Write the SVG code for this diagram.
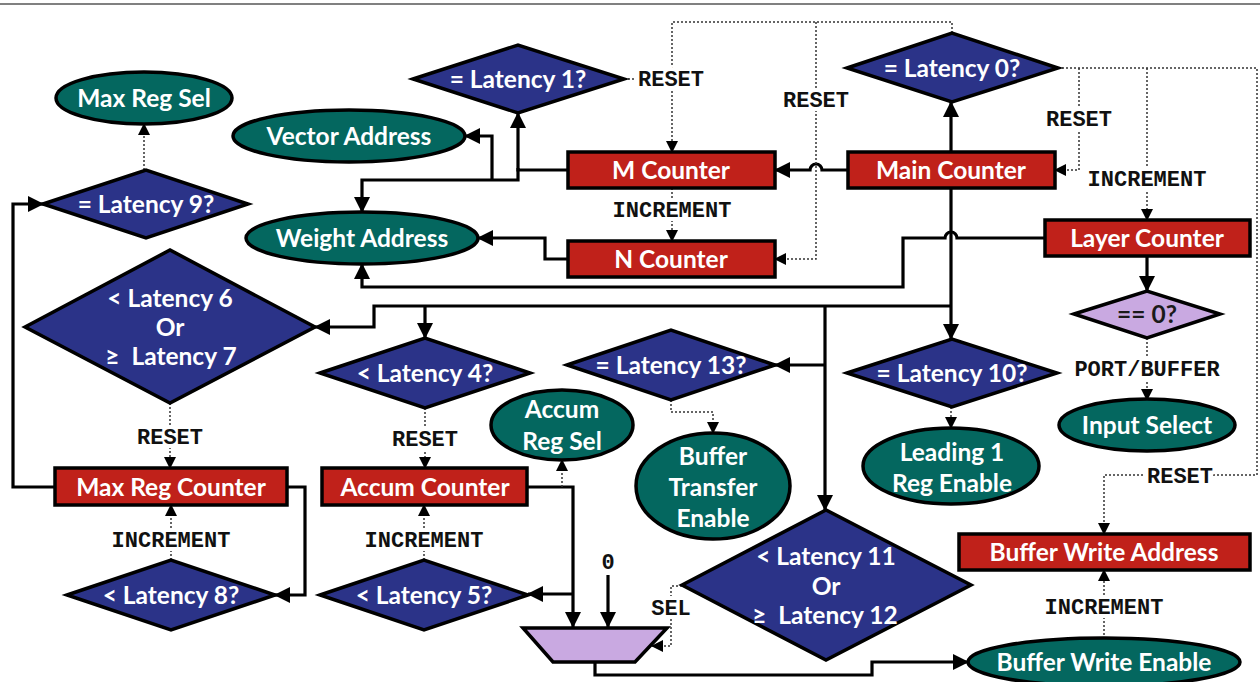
<svg xmlns="http://www.w3.org/2000/svg" width="1260" height="682" viewBox="0 0 1260 682">
  <style>
    .dia { fill: #2b3388; stroke: #000; stroke-width: 3.5; stroke-linejoin: miter; }
    .ell { fill: #04675f; stroke: #000; stroke-width: 3.5; }
    .box { fill: #c0211a; stroke: #000; stroke-width: 3.5; }
    .mux { fill: #c9a9e1; stroke: #000; stroke-width: 3.5; }
    .t { font-family: Lato, "Open Sans", sans-serif; font-weight: bold; font-size: 24.5px; fill: #fff; text-anchor: middle; }
    .dk { fill: #1a1a1a; }
    .m { font-family: "Liberation Mono", "Courier New", monospace; font-weight: bold; font-size: 22px; fill: #111; text-anchor: middle;
         paint-order: stroke; stroke: #fff; stroke-width: 8px; stroke-linejoin: round; }
    .w { fill: none; stroke: #000; stroke-width: 3.2; stroke-linejoin: miter; }
    .d { fill: none; stroke: #333; stroke-width: 1.5; stroke-dasharray: 2 2; }
  </style>
  <defs>
    <marker id="a" markerUnits="userSpaceOnUse" markerWidth="16" markerHeight="16" refX="15" refY="8" orient="auto">
      <path d="M0,0 L16,8 L0,16 z" fill="#000"/>
    </marker>
    <marker id="s" markerUnits="userSpaceOnUse" markerWidth="12" markerHeight="12" refX="11" refY="6" orient="auto">
      <path d="M0,0 L12,6 L0,12 z" fill="#000"/>
    </marker>
  </defs>

  <!-- header rule -->
  <line x1="0" y1="4" x2="1260" y2="4" stroke="#808080" stroke-width="2"/>

  <!-- connectors -->
  <g id="connectors">
    <!-- solid data paths -->
    <path class="w" d="M951,152 V102" marker-end="url(#a)"/>
    <path class="w" d="M848,170 H822 A6,6 0 0 0 810,170 H775" marker-end="url(#a)"/>
    <path class="w" d="M568,170 H518 V113" marker-end="url(#a)"/>
    <path class="w" d="M518,168 V180 H362 V212" marker-end="url(#a)"/>
    <path class="w" d="M492,180 V136 H465" marker-end="url(#a)"/>
    <path class="w" d="M568,259 H545 V238 H478" marker-end="url(#a)"/>
    <path class="w" d="M1045,238 H957 A6,6 0 0 0 945,238 H903 V287 H362 V264" marker-end="url(#a)"/>
    <path class="w" d="M1147,256 V291" marker-end="url(#a)"/>
    <path class="w" d="M951,188 V339" marker-end="url(#a)"/>
    <path class="w" d="M951,306 H374 V327 H315" marker-end="url(#a)"/>
    <path class="w" d="M425,306 V338" marker-end="url(#a)"/>
    <path class="w" d="M825,306 V510" marker-end="url(#a)"/>
    <path class="w" d="M825,365 H775" marker-end="url(#a)"/>
    <path class="w" d="M55,487 H13 V204 H43" marker-end="url(#a)"/>
    <path class="w" d="M287,487 H305 V595 H275" marker-end="url(#a)"/>
    <path class="w" d="M527,487 H573 V627" marker-end="url(#a)"/>
    <path class="w" d="M573,594 H528" marker-end="url(#a)"/>
    <path class="w" d="M608,575 V627" marker-end="url(#a)"/>
    <path class="w" d="M595,662 V675 H872 V662 H968" marker-end="url(#a)"/>

    <!-- dotted control paths -->
    <path class="d" d="M144,170 V124" marker-end="url(#s)"/>
    <path class="d" d="M170,403 V468" marker-end="url(#s)"/>
    <path class="d" d="M171,560 V505" marker-end="url(#s)"/>
    <path class="d" d="M425,408 V468" marker-end="url(#s)"/>
    <path class="d" d="M424,560 V505" marker-end="url(#s)"/>
    <path class="d" d="M562,487 V460" marker-end="url(#s)"/>
    <path class="d" d="M682,586 H671 V646 H652" marker-end="url(#s)"/>
    <path class="d" d="M671,400 V412 H713 V433" marker-end="url(#s)"/>
    <path class="d" d="M951,407 V428" marker-end="url(#s)"/>
    <path class="d" d="M1147,338 V400" marker-end="url(#s)"/>
    <path class="d" d="M1104,639 V570" marker-end="url(#s)"/>
    <path class="d" d="M1058,68 H1257 V475 H1104 V534" marker-end="url(#s)"/>
    <path class="d" d="M1079,68 V170 H1055" marker-end="url(#s)"/>
    <path class="d" d="M1147,68 V220" marker-end="url(#s)"/>
    <path class="d" d="M952,33 V22 H672 V152" marker-end="url(#s)"/>
    <path class="d" d="M816,22 V259 H775" marker-end="url(#s)"/>
    <path class="d" d="M624,79 H645"/>
    <path class="d" d="M672,188 V241" marker-end="url(#s)"/>

    <!-- connector labels -->
    <text class="m" x="671" y="86">RESET</text>
    <text class="m" x="816" y="107">RESET</text>
    <text class="m" x="1079" y="126">RESET</text>
    <text class="m" x="1147" y="186">INCREMENT</text>
    <text class="m" x="672" y="217">INCREMENT</text>
    <text class="m" x="1147" y="376">PORT/BUFFER</text>
    <text class="m" x="170" y="444">RESET</text>
    <text class="m" x="425" y="446">RESET</text>
    <text class="m" x="171" y="547">INCREMENT</text>
    <text class="m" x="424" y="547">INCREMENT</text>
    <text class="m" x="608" y="569">0</text>
    <text class="m" x="671" y="615">SEL</text>
    <text class="m" x="1180" y="483">RESET</text>
    <text class="m" x="1104" y="614">INCREMENT</text>
  </g>

  <!-- decision nodes -->
  <g id="lat1"><polygon class="dia" points="413,79 518,45 624,79 518,113"/><text class="t" x="518" y="88">= Latency 1?</text></g>
  <g id="lat0"><polygon class="dia" points="847,68 952,33 1058,68 952,102"/><text class="t" x="952" y="77">= Latency 0?</text></g>
  <g id="lat9"><polygon class="dia" points="43,204 146,170 248,204 146,238"/><text class="t" x="146" y="213">= Latency 9?</text></g>
  <g id="lat67"><polygon class="dia" points="25,327 170,250 315,327 170,403"/>
    <text class="t" x="170" y="307">&lt; Latency 6</text>
    <text class="t" x="170" y="336">Or</text>
    <text class="t" x="171" y="365">≥&#160; Latency 7</text></g>
  <g id="lat4"><polygon class="dia" points="320,373 425,338 530,373 425,408"/><text class="t" x="425" y="382">&lt; Latency 4?</text></g>
  <g id="lat13"><polygon class="dia" points="567,365 671,330 775,365 671,400"/><text class="t" x="671" y="374">= Latency 13?</text></g>
  <g id="lat10"><polygon class="dia" points="847,373 952,339 1057,373 952,407"/><text class="t" x="952" y="382">= Latency 10?</text></g>
  <g id="zero"><polygon class="mux" points="1074,314 1147,291 1220,314 1147,338"/><text class="t dk" x="1147" y="323">== 0?</text></g>
  <g id="lat8"><polygon class="dia" points="67,595 171,560 275,595 171,630"/><text class="t" x="171" y="604">&lt; Latency 8?</text></g>
  <g id="lat5"><polygon class="dia" points="320,595 424,560 528,595 424,630"/><text class="t" x="424" y="604">&lt; Latency 5?</text></g>
  <g id="lat1112"><polygon class="dia" points="682,585 826,510 971,585 826,660"/>
    <text class="t" x="826" y="565">&lt; Latency 11</text>
    <text class="t" x="826" y="595">Or</text>
    <text class="t" x="825" y="624">≥&#160; Latency 12</text></g>

  <!-- counters -->
  <g id="mcounter"><rect class="box" x="568" y="152" width="207" height="36"/><text class="t" x="671" y="179">M Counter</text></g>
  <g id="maincounter"><rect class="box" x="848" y="152" width="207" height="36"/><text class="t" x="951" y="179">Main Counter</text></g>
  <g id="ncounter"><rect class="box" x="568" y="241" width="207" height="36"/><text class="t" x="671" y="268">N Counter</text></g>
  <g id="layercounter"><rect class="box" x="1045" y="220" width="205" height="36"/><text class="t" x="1147" y="247">Layer Counter</text></g>
  <g id="maxregcounter"><rect class="box" x="55" y="468" width="232" height="37"/><text class="t" x="171" y="496">Max Reg Counter</text></g>
  <g id="accumcounter"><rect class="box" x="322" y="468" width="205" height="37"/><text class="t" x="425" y="496">Accum Counter</text></g>
  <g id="bufwriteaddr"><rect class="box" x="959" y="534" width="291" height="36"/><text class="t" x="1104" y="561">Buffer Write Address</text></g>

  <!-- outputs -->
  <g id="maxregsel"><ellipse class="ell" cx="144" cy="98" rx="88" ry="26"/><text class="t" x="144" y="107">Max Reg Sel</text></g>
  <g id="vectoraddr"><ellipse class="ell" cx="349" cy="136" rx="116" ry="26"/><text class="t" x="349" y="145">Vector Address</text></g>
  <g id="weightaddr"><ellipse class="ell" cx="362" cy="238" rx="116" ry="26"/><text class="t" x="362" y="247">Weight Address</text></g>
  <g id="inputselect"><ellipse class="ell" cx="1147" cy="425" rx="88" ry="26"/><text class="t" x="1147" y="434">Input Select</text></g>
  <g id="accumregsel"><ellipse class="ell" cx="562" cy="425" rx="71" ry="35"/>
    <text class="t" x="562" y="418">Accum</text>
    <text class="t" x="562" y="450">Reg Sel</text></g>
  <g id="buftransfer"><ellipse class="ell" cx="713" cy="486" rx="77" ry="53"/>
    <text class="t" x="713" y="465">Buffer</text>
    <text class="t" x="713" y="496">Transfer</text>
    <text class="t" x="713" y="527">Enable</text></g>
  <g id="leading1"><ellipse class="ell" cx="951" cy="466" rx="88" ry="38"/>
    <text class="t" x="952" y="461">Leading 1</text>
    <text class="t" x="952" y="492">Reg Enable</text></g>
  <g id="bufwriteen"><ellipse class="ell" cx="1104" cy="662" rx="136" ry="24"/><text class="t" x="1104" y="671">Buffer Write Enable</text></g>

  <!-- output multiplexer -->
  <g id="mux"><polygon class="mux" points="523,628 667,628 635,662 553,662"/></g>
</svg>
